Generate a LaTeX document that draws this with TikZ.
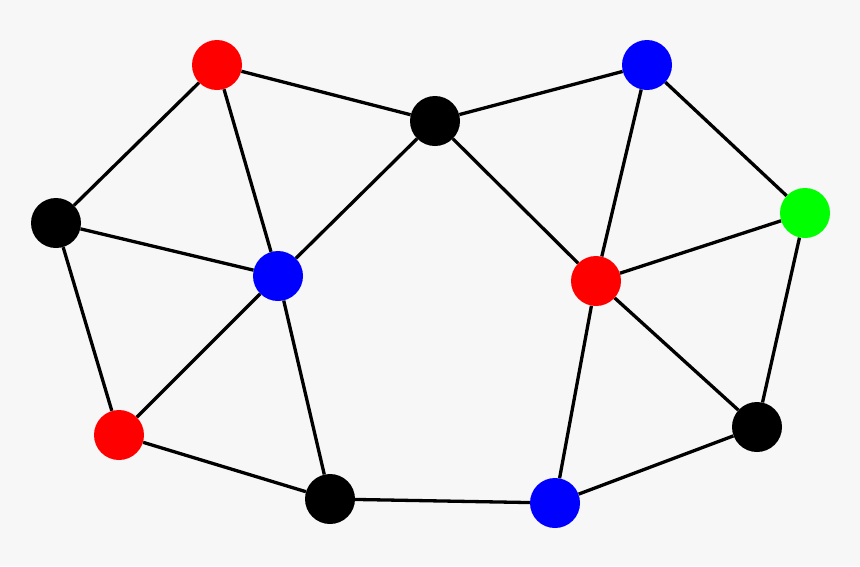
\documentclass[tikz,border=0pt]{standalone}
\usetikzlibrary{backgrounds}
\begin{document}
\begin{tikzpicture}[x=1pt,y=-1pt,
  vtx/.style={circle,minimum size=50pt,inner sep=0pt},
  edge/.style={line width=3.3pt,black}]
\definecolor{bg}{HTML}{F7F7F7}
\definecolor{vred}{HTML}{FF0000}
\definecolor{vblue}{HTML}{0000FF}
\definecolor{vgreen}{HTML}{00FF00}
\useasboundingbox (0,0) rectangle (860,566);
\node[vtx,fill=vred] (r1) at (217,65) {};
\node[vtx,fill=black] (k1) at (435,121) {};
\node[vtx,fill=vblue] (b1) at (647,65) {};
\node[vtx,fill=black] (k2) at (56,223) {};
\node[vtx,fill=vblue] (b2) at (278,276) {};
\node[vtx,fill=vgreen] (g) at (805,213) {};
\node[vtx,fill=vred] (r2) at (596,281) {};
\node[vtx,fill=vred] (r3) at (119,435) {};
\node[vtx,fill=black] (k3) at (330,499) {};
\node[vtx,fill=vblue] (b3) at (555,503) {};
\node[vtx,fill=black] (k4) at (757,427) {};
\begin{scope}[on background layer]
\fill[bg] (0,0) rectangle (860,566);
\draw[edge] (r1)--(k1) (r1)--(k2) (r1)--(b2)
  (k1)--(b2) (k1)--(b1) (k1)--(r2)
  (k2)--(b2) (k2)--(r3) (b2)--(r3)
  (b2)--(k3) (r3)--(k3) (k3)--(b3)
  (b3)--(r2) (b3)--(k4) (r2)--(b1)
  (r2)--(g) (r2)--(k4) (b1)--(g)
  (g)--(k4);
\end{scope}
\end{tikzpicture}
\end{document}
